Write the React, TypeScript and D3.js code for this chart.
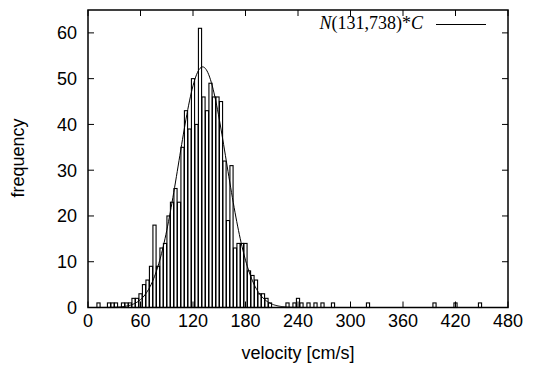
import React, { useEffect, useRef } from "react";
import * as d3 from "d3";

// histogram bins (center of each 4 cm/s bin) and their counts
const binCenters = [
  12, 24, 28, 32, 40, 44, 48, 52, 56, 60, 64, 68, 72, 76, 80, 84, 88, 92, 96, 100,
  104, 108, 112, 116, 120, 124, 128, 132, 136, 140, 144, 148, 152, 156, 160, 164,
  168, 172, 176, 180, 184, 188, 192, 196, 200, 204, 208, 228, 236, 240, 244, 252,
  260, 268, 280, 320, 396, 420, 448,
];
const binCounts = [
  1, 1, 1, 1, 1, 1, 1, 2, 2, 3, 5, 6, 9, 18, 9, 13, 14, 20, 23, 26,
  23, 35, 43, 39, 50, 40, 61, 46, 43, 49, 46, 46, 45, 32, 19, 31,
  13, 14, 14, 14, 8, 7, 6, 3, 3, 2, 1, 1, 1, 2, 1, 1,
  1, 1, 1, 1, 1, 1, 1,
];
const binWidth = 4;

// fitted normal curve N(mean, variance) * C
const fitMean = 131;
const fitVariance = 738;
const fitScale = 3580;

const xTicks = [0, 60, 120, 180, 240, 300, 360, 420, 480];
const yTicks = [0, 10, 20, 30, 40, 50, 60];

const App = () => {
  const svgRef = useRef<SVGSVGElement>(null);

  useEffect(() => {
    const W = 537;
    const H = 367;
    const left = 88, right = 508, top = 10, bottom = 307.5;
    const sans = "'Liberation Sans', Arial, sans-serif";
    const fs = "18px";

    const svg = d3.select(svgRef.current).attr("width", W).attr("height", H);
    svg.selectAll("*").remove();

    const x = d3.scaleLinear().domain([0, 480]).range([left, right]);
    const y = d3.scaleLinear().domain([0, 65]).range([bottom, top]);

    const bins = binCenters.map((c, i) => ({ c, n: binCounts[i] }));
    const half = binWidth * 0.45;

    // histogram boxes
    svg
      .append("g")
      .selectAll("rect")
      .data(bins)
      .enter()
      .append("rect")
      .attr("x", (d) => x(d.c - half))
      .attr("width", (d) => x(d.c + half) - x(d.c - half))
      .attr("y", (d) => y(d.n))
      .attr("height", (d) => y(0) - y(d.n))
      .attr("fill", "none")
      .attr("stroke", "#000")
      .attr("stroke-width", 1.1);

    // fitted curve
    const gauss = (v: number) =>
      (fitScale / Math.sqrt(2 * Math.PI * fitVariance)) *
      Math.exp(-((v - fitMean) ** 2) / (2 * fitVariance));
    const samples = d3.range(0, 480.5, 1);
    const line = d3
      .line<number>()
      .x((v) => x(v))
      .y((v) => y(gauss(v)));
    svg
      .append("path")
      .datum(samples)
      .attr("d", line)
      .attr("fill", "none")
      .attr("stroke", "#000")
      .attr("stroke-width", 1);

    // ticks on all four sides, pointing inward
    const tl = 6;
    const tickG = svg.append("g").attr("stroke", "#000").attr("stroke-width", 1);
    xTicks.forEach((t) => {
      tickG.append("line").attr("x1", x(t)).attr("x2", x(t)).attr("y1", bottom).attr("y2", bottom - tl);
      tickG.append("line").attr("x1", x(t)).attr("x2", x(t)).attr("y1", top).attr("y2", top + tl);
    });
    yTicks.forEach((t) => {
      tickG.append("line").attr("x1", left).attr("x2", left + tl).attr("y1", y(t)).attr("y2", y(t));
      tickG.append("line").attr("x1", right).attr("x2", right - tl).attr("y1", y(t)).attr("y2", y(t));
    });

    // frame
    svg
      .append("rect")
      .attr("x", left)
      .attr("y", top)
      .attr("width", right - left)
      .attr("height", bottom - top)
      .attr("fill", "none")
      .attr("stroke", "#000")
      .attr("stroke-width", 1.5);

    // tick labels
    svg
      .append("g")
      .selectAll("text")
      .data(xTicks)
      .enter()
      .append("text")
      .attr("x", (d) => x(d))
      .attr("y", 326.5)
      .attr("text-anchor", "middle")
      .style("font-family", sans)
      .style("font-size", fs)
      .text((d) => d);

    svg
      .append("g")
      .selectAll("text")
      .data(yTicks)
      .enter()
      .append("text")
      .attr("x", 77)
      .attr("y", (d) => y(d))
      .attr("dy", "0.36em")
      .attr("text-anchor", "end")
      .style("font-family", sans)
      .style("font-size", fs)
      .text((d) => d);

    // axis titles
    svg
      .append("text")
      .attr("x", 298)
      .attr("y", 359)
      .attr("text-anchor", "middle")
      .style("font-family", sans)
      .style("font-size", fs)
      .text("velocity [cm/s]");

    svg
      .append("text")
      .attr("transform", "translate(18,158) rotate(-90)")
      .attr("text-anchor", "middle")
      .attr("dy", "0.36em")
      .style("font-family", sans)
      .style("font-size", fs)
      .text("frequency");

    // legend
    const lg = svg
      .append("text")
      .attr("x", 423)
      .attr("y", 29)
      .attr("text-anchor", "end")
      .style("font-family", "'Liberation Serif', 'Times New Roman', serif")
      .style("font-size", "18px");
    lg.append("tspan").style("font-style", "italic").text("N");
    lg.append("tspan").text("(131,738)*");
    lg.append("tspan").style("font-style", "italic").text("C");

    svg
      .append("line")
      .attr("x1", 436)
      .attr("x2", 486)
      .attr("y1", 24.5)
      .attr("y2", 24.5)
      .attr("stroke", "#000")
      .attr("stroke-width", 1);
  }, []);

  return (
    <div style={{ position: "fixed", left: 0, top: 0 }}>
      <svg ref={svgRef} style={{ display: "block", background: "#fff" }}></svg>
    </div>
  );
};

export default App;
